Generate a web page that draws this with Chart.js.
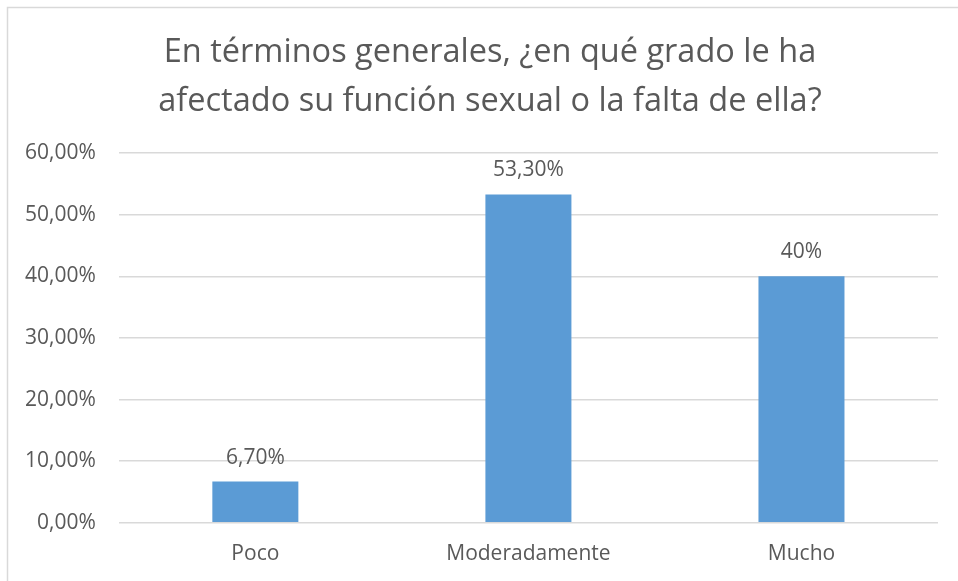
<!DOCTYPE html>
<html>
<head>
<meta charset="utf-8">
<script src="https://cdn.jsdelivr.net/npm/chart.js@4"></script>
<style>
  html, body { margin: 0; padding: 0; background: #fff; }
  #wrap { width: 958px; height: 581px; }
</style>
</head>
<body>
<div id="wrap"><canvas id="bar"></canvas></div>
<script>
const categories = ['Poco', 'Moderadamente', 'Mucho'];
const percentages = [6.7, 53.3, 40];
const valueLabels = ['6,70%', '53,30%', '40%'];
const titleLines = ['En términos generales, ¿en qué grado le ha', 'afectado su función sexual o la falta de ella?'];

const textColor = '#595959';
const fontFamily = "'Open Sans', 'Noto Sans', sans-serif";

// frame lines on the left and top like the exported picture
const framePlugin = {
    id: 'frame',
    beforeDraw(chart) {
        const ctx = chart.ctx;
        ctx.save();
        ctx.strokeStyle = '#d9d9d9';
        ctx.lineWidth = 1.5;
        ctx.beginPath();
        ctx.moveTo(7.5, chart.height);
        ctx.lineTo(7.5, 7.5);
        ctx.lineTo(chart.width, 7.5);
        ctx.stroke();
        ctx.restore();
    },
    // title in the original is centred on the whole frame, a bit right of the axis area
    afterLayout(chart) {
        chart.titleBlock.left += 40;
    },
};

// value text above each bar
const valueLabelPlugin = {
    id: 'valueLabels',
    afterDatasetsDraw(chart) {
        const ctx = chart.ctx;
        const meta = chart.getDatasetMeta(0);
        ctx.save();
        ctx.fillStyle = textColor;
        ctx.font = "21px " + fontFamily;
        ctx.textAlign = 'center';
        ctx.textBaseline = 'alphabetic';
        meta.data.forEach((bar, i) => {
            ctx.fillText(valueLabels[i], bar.x, bar.y - 18);
        });
        ctx.restore();
    },
};

const barConfig = {
    type: 'bar',
    data: {
        labels: categories,
        datasets: [
            {
                data: percentages,
                backgroundColor: '#5b9bd5',
                borderWidth: 0,
                categoryPercentage: 1,
                barPercentage: 0.315,
            },
        ],
    },
    options: {
        responsive: false,
        animation: false,
        layout: {
            padding: { left: 2, right: 20, top: 6, bottom: 3 },
        },
        plugins: {
            legend: { display: false },
            tooltip: { enabled: false },
            title: {
                display: true,
                text: titleLines,
                color: textColor,
                font: { family: fontFamily, size: 32.5, weight: 'normal', lineHeight: 1.51 },
                padding: { top: 22, bottom: 27 },
            },
        },
        scales: {
            x: {
                grid: { display: false },
                border: { display: false },
                ticks: {
                    color: textColor,
                    font: { family: fontFamily, size: 21 },
                    padding: 11,
                },
            },
            y: {
                min: 0,
                max: 60,
                grid: { color: '#d9d9d9', lineWidth: 1.5, drawTicks: false },
                border: { display: false },
                ticks: {
                    stepSize: 10,
                    color: textColor,
                    font: { family: fontFamily, size: 21 },
                    padding: 23,
                    callback: (value) => value.toFixed(2).replace('.', ',') + '%',
                },
            },
        },
    },
    plugins: [framePlugin, valueLabelPlugin],
};

const barCanvas = document.getElementById('bar');
barCanvas.width = 958;
barCanvas.height = 581;
window.myBar = new Chart(barCanvas, barConfig);
</script>
</body>
</html>
